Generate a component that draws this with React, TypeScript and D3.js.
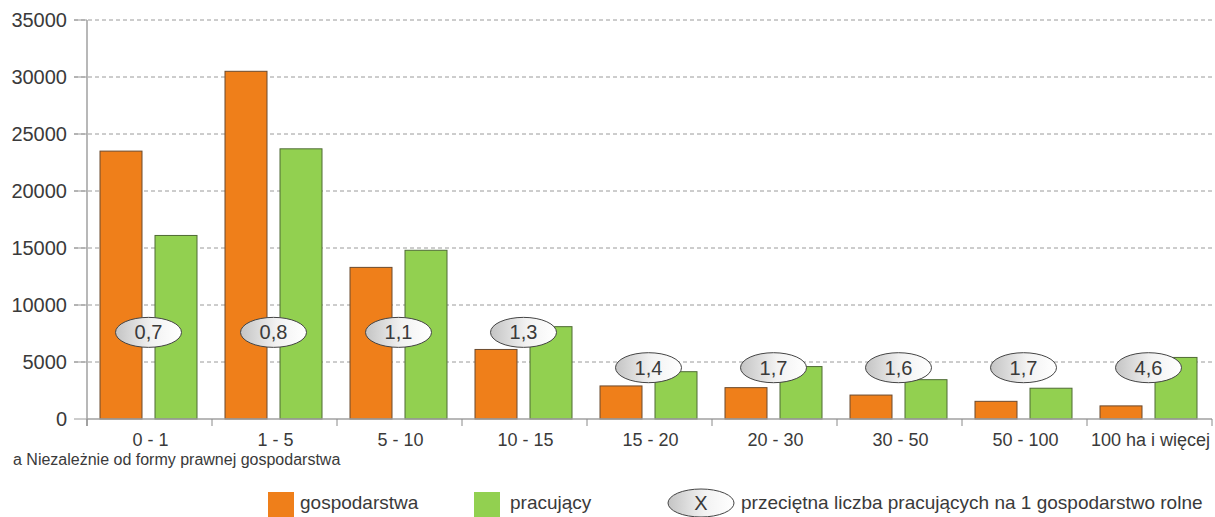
import React from "react";
import * as d3 from "d3";

const categories = ["0 - 1", "1 - 5", "5 - 10", "10 - 15", "15 - 20", "20 - 30", "30 - 50", "50 - 100", "100 ha i więcej"];
const gospodarstwa = [23500, 30500, 13300, 6100, 2900, 2750, 2100, 1550, 1150];
const pracujacy = [16100, 23700, 14800, 8100, 4150, 4600, 3450, 2700, 5400];
const srednia = ["0,7", "0,8", "1,1", "1,3", "1,4", "1,7", "1,6", "1,7", "4,6"];
const ellipseLevel = [7600, 7600, 7600, 7600, 4500, 4500, 4500, 4500, 4500];
const yTicks = [0, 5000, 10000, 15000, 20000, 25000, 30000, 35000];

const W = 1215, H = 517;
const left = 87, right = 1212, top = 20, bottom = 419;
const ORANGE = "#EF7F1A";
const GREEN = "#92D050";
const FONT = "'Liberation Sans', Arial, sans-serif";
const TXT = "#3a3a3a";

export default function App() {
  const x = d3.scaleBand<string>().domain(categories).range([left, right]);
  const y = d3.scaleLinear().domain([0, 35000]).range([bottom, top]);
  const bw = x.bandwidth();
  const barW = 42;
  return (
    <svg width={W} height={H} style={{ position: "absolute", left: 0, top: 0, background: "#fff" }}>
      <defs>
        <linearGradient id="eg" x1="0" y1="0" x2="1" y2="0">
          <stop offset="0" stopColor="#c4c4c4" />
          <stop offset="0.55" stopColor="#f2f2f2" />
          <stop offset="1" stopColor="#ffffff" />
        </linearGradient>
      </defs>
      {yTicks.map((t) => (
        <g key={t}>
          {t > 0 && (
            <line x1={74} x2={right} y1={y(t)} y2={y(t)} stroke="#9a9a9a" strokeDasharray="4,3" strokeWidth={1} />
          )}
          <line x1={74} x2={left} y1={y(t)} y2={y(t)} stroke="#9a9a9a" />
          <text x={67} y={y(t) + 7} textAnchor="end" fontFamily={FONT} fontSize={20} fill={TXT}>{t}</text>
        </g>
      ))}
      <line x1={left} x2={left} y1={top} y2={bottom + 7} stroke="#a0a0a0" strokeWidth={1.5} />
      {categories.map((c, i) => {
        const x0 = x(c)!;
        return (
          <g key={c}>
            <rect x={x0 + 13} y={y(gospodarstwa[i])} width={barW} height={bottom - y(gospodarstwa[i])} fill={ORANGE} stroke="#6b4a2e" strokeWidth={1} />
            <rect x={x0 + 68} y={y(pracujacy[i])} width={barW} height={bottom - y(pracujacy[i])} fill={GREEN} stroke="#4f6b35" strokeWidth={1} />
          </g>
        );
      })}
      <line x1={left} x2={right} y1={bottom} y2={bottom} stroke="#a0a0a0" strokeWidth={1.5} />
      {d3.range(categories.length + 1).map((i) => (
        <line key={i} x1={left + i * bw} x2={left + i * bw} y1={bottom} y2={bottom + 7} stroke="#8a8a8a" />
      ))}
      {categories.map((c) => (
        <text key={c} x={x(c)! + bw / 2 + 1} y={446} textAnchor="middle" fontFamily={FONT} fontSize={18} fill={TXT}>{c}</text>
      ))}
      {categories.map((c, i) => {
        const cx = x(c)! + bw / 2 - 1;
        const cy = y(ellipseLevel[i]);
        return (
          <g key={"e" + c}>
            <ellipse cx={cx} cy={cy} rx={33} ry={15} fill="url(#eg)" stroke="#444" strokeWidth={1} />
            <text x={cx} y={cy + 7} textAnchor="middle" fontFamily={FONT} fontSize={20} fill={TXT}>{srednia[i]}</text>
          </g>
        );
      })}
      <text x={13} y={465} fontFamily={FONT} fontSize={16} fill={TXT}>a Niezależnie od formy prawnej gospodarstwa</text>
      <rect x={268} y={492} width={26} height={25} fill={ORANGE} />
      <text x={300} y={509} fontFamily={FONT} fontSize={19} fill={TXT}>gospodarstwa</text>
      <rect x={474} y={492} width={26} height={25} fill={GREEN} />
      <text x={510} y={509} fontFamily={FONT} fontSize={19} fill={TXT}>pracujący</text>
      <ellipse cx={701} cy={503} rx={33} ry={14} fill="url(#eg)" stroke="#444" strokeWidth={1} />
      <text x={701} y={510} textAnchor="middle" fontFamily={FONT} fontSize={20} fill={TXT}>X</text>
      <text x={741} y={509} fontFamily={FONT} fontSize={19} fill={TXT}>przeciętna liczba pracujących na 1 gospodarstwo rolne</text>
    </svg>
  );
}
